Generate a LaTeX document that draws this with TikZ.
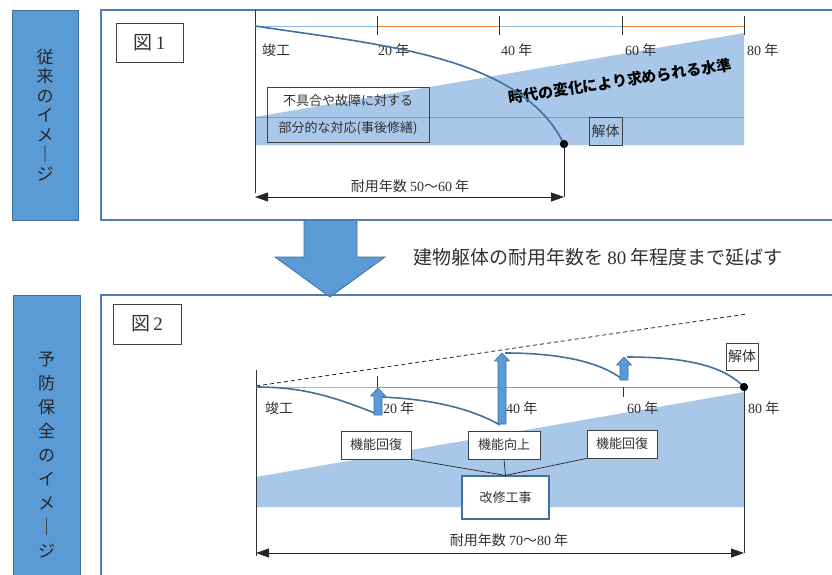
\documentclass[tikz,border=0pt]{standalone}
\usepackage{fontspec}
\setmainfont{Liberation Serif}
\newfontfamily\cjk{Noto Sans CJK JP}
\newfontfamily\lat{Liberation Serif}
\usetikzlibrary{arrows.meta}
\definecolor{lblue}{RGB}{91,155,213}
\definecolor{dblue}{RGB}{65,113,156}
\definecolor{frameblue}{RGB}{79,125,184}
\definecolor{fillblue}{RGB}{169,199,232}
\definecolor{lineblue}{RGB}{115,160,212}
\definecolor{tlblue}{RGB}{140,185,230}
\definecolor{orng}{RGB}{237,125,49}
\definecolor{txt}{RGB}{50,50,50}
\newcommand\dg[1]{{\lat #1}}
\newcommand\blockup[3]{%
  \filldraw[upar] (#1-4,#2) -- (#1+4,#2) -- (#1+4,#3+8) -- (#1+7.5,#3+8) -- (#1,#3) -- (#1-7.5,#3+8) -- (#1-4,#3+8) -- cycle;}
\begin{document}
\begin{tikzpicture}[x=1pt,y=-1pt,
  lbl/.style={font=\cjk\fontsize{14}{16}\selectfont, text=txt, inner sep=0pt},
  boxed/.style={draw=black!75, line width=0.8pt, fill=white, font=\cjk\fontsize{13}{15}\selectfont, text=txt, inner sep=0pt},
  sidebox/.style={draw=dblue, line width=1pt, fill=lblue},
  sidetext/.style={font=\cjk\fontsize{17}{19.5}\selectfont, align=center, inner sep=0pt, text=black!85},
  curve/.style={draw=dblue, line width=1.6pt},
  upar/.style={fill=lblue, draw=dblue, line width=0.6pt},
  axisline/.style={draw=black!80, line width=0.8pt},
  dim/.style={draw=black!85, line width=0.8pt, {Triangle[length=13pt,width=9pt]}-{Triangle[length=13pt,width=9pt]}},
  dot/.style={circle, fill=black, inner sep=0pt, minimum size=8pt},
]
\useasboundingbox (0,0) rectangle (832,574);
\clip (0,0) rectangle (832,574);
\fill[white] (0,0) rectangle (832,574);

% big down arrow
\filldraw[upar, line width=0.8pt] (304,220) -- (357,220) -- (357,257) -- (385,257) -- (330,297) -- (275,257) -- (304,257) -- cycle;

% panel frames
\draw[frameblue, line width=1.6pt] (101,10) rectangle (850,220);
\draw[frameblue, line width=1.6pt] (101,295) rectangle (850,600);

% side labels
\node[sidebox, minimum width=66pt, minimum height=210pt] (lab1) at (45,115) {};
\node[sidetext] (lab1t) at (45,115) {従\\来\\の\\イ\\メ\\｜\\ジ};
\node[sidebox, minimum width=67pt, minimum height=300pt, anchor=north] (lab2) at (46.5,295) {};
\node[sidetext, font=\cjk\fontsize{17}{24}\selectfont] (lab2t) at (46.5,455) {予\\防\\保\\全\\の\\イ\\メ\\｜\\ジ};

% middle text
\node[lbl, font=\cjk\fontsize{19}{21}\selectfont, anchor=west] (mid) at (413,257) {建物躯体の耐用年数を \dg{80} 年程度まで延ばす};

% figure labels
\node[boxed, font=\cjk\fontsize{19}{21}\selectfont, minimum width=67pt, minimum height=39pt] (fig1) at (149.5,42.5) {図\,\dg{1}};
\node[boxed, font=\cjk\fontsize{19}{21}\selectfont, minimum width=68pt, minimum height=40pt] (fig2) at (147,324) {図\,\dg{2}};

% ================= top chart
\fill[fillblue] (255,117) -- (744,33) -- (744,145) -- (255,145) -- cycle;
\draw[lineblue, line width=0.9pt] (255,117) -- (744,117);
\draw[tlblue, line width=0.7pt] (255,26) -- (377,26);
\draw[orng, line width=0.8pt] (377,26) -- (499,26);
\draw[tlblue, line width=0.7pt] (499,26) -- (622,26);
\draw[orng, line width=0.8pt] (622,26) -- (744,26);
\foreach \x in {377,499,622,744} \draw[black!80, line width=0.7pt] (\x,16) -- (\x,35);
\draw[axisline] (255,10) -- (255,193);

\node[lbl, anchor=west] (k1) at (262,50) {竣工};
\node[lbl, anchor=west] (a20) at (378,50) {\dg{20} 年};
\node[lbl, anchor=west] (a40) at (501,50) {\dg{40} 年};
\node[lbl, anchor=west] (a60) at (625,50) {\dg{60} 年};
\node[lbl, anchor=west] (a80) at (747,50) {\dg{80} 年};

\node[draw=black!75, line width=0.8pt, font=\cjk\fontsize{13}{27}\selectfont, text=txt, align=center, minimum width=162pt, minimum height=55pt, inner sep=0pt] (fail) at (348,114.5) {不具合や故障に対する\\部分的な対応(事後修繕)};
\node[draw=black!75, line width=0.8pt, font=\cjk\fontsize{14}{16}\selectfont, text=txt, minimum width=33pt, minimum height=28pt, inner sep=0pt] (dem1) at (605.5,131) {解体};

\node[font=\cjk\bfseries\fontsize{15}{17}\selectfont, rotate=8.6, inner sep=0pt] (lvl) at (620,81) {時代の変化により求められる水準};

\coordinate (s1) at (255,26);
\node[dot] (d1) at (564,144) {};
\draw[curve] (s1) .. controls (380,45) and (520,55) .. (d1.center);
\node[dot] at (d1) {};
\coordinate (ar1s) at (255,197);
\coordinate (ar1e) at (564,197);
\draw[dim] (ar1s) -- (ar1e);
\draw[black!85, line width=0.8pt] (d1.center) -- (ar1e);
\node[lbl] (life1) at (410,186) {耐用年数 \dg{50}〜\dg{60} 年};

% ================= bottom chart
\fill[fillblue] (256,477) -- (744,392) -- (744,507) -- (256,507) -- cycle;
\draw[tlblue, line width=0.7pt] (256,387) -- (377,387);
\draw[orng, line width=0.8pt] (377,387) -- (744,387);
\draw[black!80, line width=0.7pt] (377,376) -- (377,387);
\draw[black!80, line width=0.7pt] (623,387) -- (623,397);
\draw[black!85, line width=0.8pt, dash pattern=on 4pt off 3pt] (256,386) -- (747,314);
\draw[axisline] (256,370) -- (256,556);

\node[lbl, anchor=west] (k2) at (265,408) {竣工};
\node[lbl, anchor=west] (b20) at (383,408) {\dg{20} 年};
\node[lbl, anchor=west] (b40) at (506,408) {\dg{40} 年};
\node[lbl, anchor=west] (b60) at (627,408) {\dg{60} 年};
\node[lbl, anchor=west] (b80) at (748,408) {\dg{80} 年};

\coordinate (p0) at (256,387);
\coordinate (p1) at (377,414);
\coordinate (p2) at (381,397);
\coordinate (p3) at (500,425);
\coordinate (p4) at (505,353);
\coordinate (p5) at (622,379);
\coordinate (p6) at (627,357);
\node[dot] (d2) at (744,387) {};
\draw[curve] (p0) .. controls (300,387) and (330,395) .. (p1);
\draw[curve] (p2) .. controls (430,399) and (470,408) .. (p3);
\draw[curve] (p4) .. controls (560,353) and (600,362) .. (p5);
\draw[curve] (p6) .. controls (680,357) and (722,364) .. (d2.center);
\draw[axisline] (d2.center) -- (744,553);
\node[dot] at (d2) {};

\blockup{378}{415}{388}
\blockup{502}{424}{353}
\blockup{624}{380}{357}

\node[boxed, font=\cjk\fontsize{14}{16}\selectfont, minimum width=32pt, minimum height=27pt] (dem2) at (742,356.5) {解体};

\node[boxed, minimum width=70pt, minimum height=28pt] (r1) at (376,445) {機能回復};
\node[boxed, minimum width=72pt, minimum height=28pt] (up) at (504,445) {機能向上};
\node[boxed, minimum width=70pt, minimum height=28pt] (r2) at (622,444) {機能回復};
\node[boxed, draw=dblue, line width=1.2pt, minimum width=87pt, minimum height=43pt] (kai) at (505.5,497.5) {改修工事};
\draw[black!85, line width=0.7pt] (r1.south east) -- (kai.north) -- (r2.south west);
\draw[black!85, line width=0.7pt] (up.south) -- (kai.north);

\coordinate (ar2s) at (256,553);
\coordinate (ar2e) at (744,553);
\draw[dim] (ar2s) -- (ar2e);
\node[lbl] (life2) at (509,540) {耐用年数 \dg{70}〜\dg{80} 年};
\end{tikzpicture}
\end{document}
